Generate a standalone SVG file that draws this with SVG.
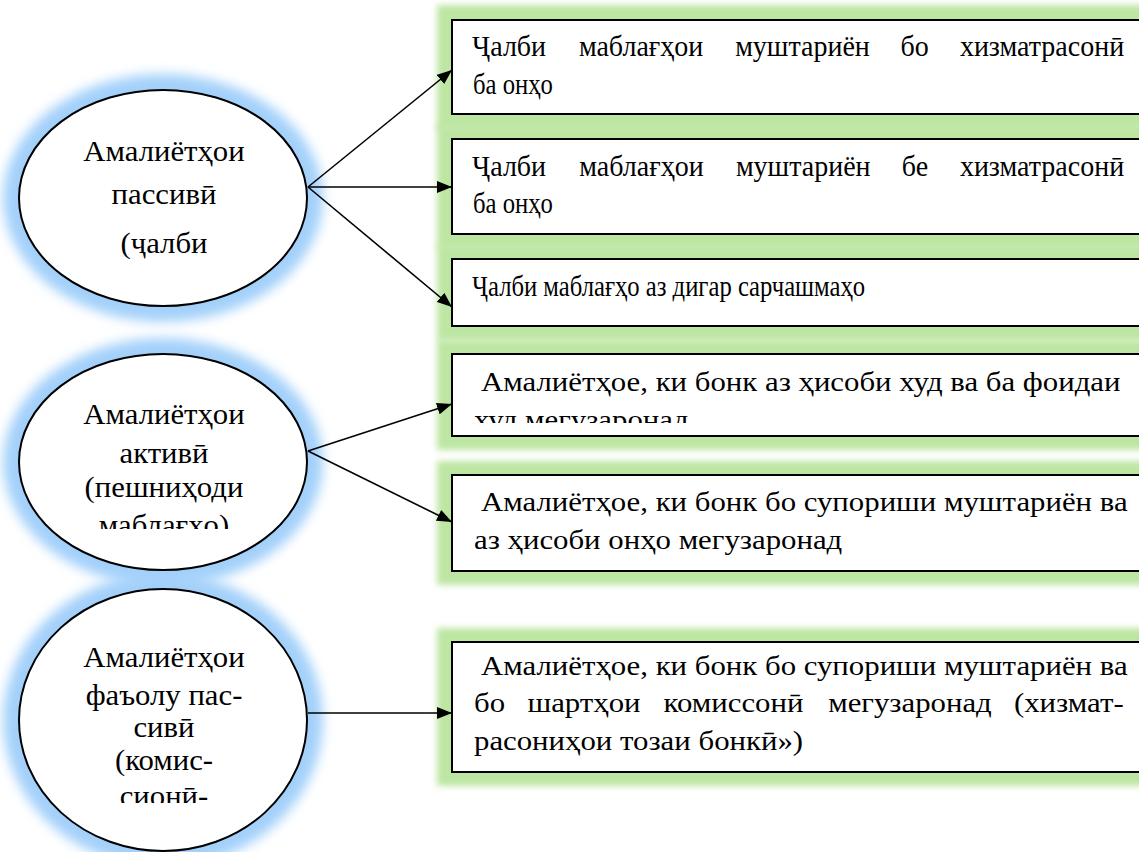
<svg xmlns="http://www.w3.org/2000/svg" width="1139" height="852" viewBox="0 0 1139 852">
<style>
.bg{fill:#ffffff}
.glowG{fill:#bde6a3;filter:url(#blurG)}
.glowB{fill:#a3d0fa;filter:url(#blurB)}
.box{fill:#ffffff;stroke:#000000;stroke-width:2}
.ell{fill:#ffffff;stroke:#000000;stroke-width:2}
.t{font-size:29px;fill:#000000}
.u{font-size:28px;fill:#000000}
.e{font-size:29px;fill:#000000;text-anchor:middle}
.c{stroke:#000000;stroke-width:1.6;fill:none;marker-end:url(#ah)}
</style>
<defs>
<filter id="blurG" x="-20%" y="-50%" width="140%" height="200%"><feGaussianBlur stdDeviation="3"/></filter>
<filter id="blurB" x="-30%" y="-30%" width="160%" height="160%"><feGaussianBlur stdDeviation="6"/></filter>
<marker id="ah" markerWidth="16" markerHeight="12" refX="15" refY="6" orient="auto" markerUnits="userSpaceOnUse">
<path d="M0,0 L15,6 L0,12 Z" fill="#000000"/>
</marker>
<clipPath id="clipB4"><rect x="452" y="354" width="687" height="69"/></clipPath>
<clipPath id="clipE2"><rect x="0" y="350" width="320" height="179"/></clipPath>
<clipPath id="clipE3"><rect x="0" y="580" width="320" height="223"/></clipPath>
</defs>
<rect class="bg" x="0" y="0" width="1139" height="852"/>

<g id="glows">
<rect class="glowG" x="437" y="5" width="720" height="125"/>
<rect class="glowG" x="437" y="125" width="720" height="124"/>
<rect class="glowG" x="437" y="245" width="720" height="96"/>
<rect class="glowG" x="437" y="340" width="720" height="110"/>
<rect class="glowG" x="437" y="461" width="720" height="124"/>
<rect class="glowG" x="437" y="628" width="720" height="158"/>
<ellipse class="glowB" cx="163" cy="198" rx="160" ry="124"/>
<ellipse class="glowB" cx="163" cy="462" rx="160" ry="124"/>
<ellipse class="glowB" cx="163" cy="720" rx="160" ry="147"/>
</g>

<g id="connectors">
<line class="c" x1="308" y1="187" x2="452" y2="70"/>
<line class="c" x1="308" y1="187" x2="452" y2="187"/>
<line class="c" x1="308" y1="187" x2="452" y2="307"/>
<line class="c" x1="308" y1="451" x2="452" y2="404"/>
<line class="c" x1="308" y1="451" x2="452" y2="522"/>
<line class="c" x1="308" y1="713" x2="452" y2="713"/>
</g>

<g id="node-e1" font-family="Liberation Serif">
<ellipse class="ell" cx="163" cy="198" rx="144" ry="108"/>
<g transform="translate(164,0) scale(1.06,1)">
<text class="e" x="0" y="161">Амалиётҳои</text>
<text class="e" x="0" y="204">пассивӣ</text>
<text class="e" x="0" y="253">(ҷалби</text>
</g>
</g>

<g id="node-e2" font-family="Liberation Serif">
<ellipse class="ell" cx="163" cy="462" rx="144" ry="108"/>
<g clip-path="url(#clipE2)">
<g transform="translate(164,0) scale(1.06,1)">
<text class="e" x="0" y="424">Амалиётҳои</text>
<text class="e" x="0" y="463">активӣ</text>
<text class="e" x="0" y="497">(пешниҳоди</text>
<text class="e" x="0" y="535">маблағҳо)</text>
</g>
</g>
</g>

<g id="node-e3" font-family="Liberation Serif">
<ellipse class="ell" cx="163" cy="720" rx="144" ry="131"/>
<g clip-path="url(#clipE3)">
<g transform="translate(164,0) scale(1.06,1)">
<text class="e" x="0" y="667">Амалиётҳои</text>
<text class="e" x="0" y="705">фаъолу пас-</text>
<text class="e" x="0" y="737">сивӣ</text>
<text class="e" x="0" y="770">(комис-</text>
<text class="e" x="0" y="806">сионӣ-</text>
</g>
</g>
</g>

<g id="node-b1" font-family="Liberation Serif">
<rect class="box" x="452" y="20" width="700" height="94"/>
<g transform="scale(0.9655,1)">
<text class="t" y="56"><tspan x="488.9">Ҷалби</tspan><tspan x="599.6">маблағҳои</tspan><tspan x="761.4">муштариён</tspan><tspan x="932.8">бо</tspan><tspan x="994.2">хизматрасонӣ</tspan></text>
</g>
<g transform="scale(0.85,1)">
<text class="t" x="556.5" y="94">ба онҳо</text>
</g>
</g>

<g id="node-b2" font-family="Liberation Serif">
<rect class="box" x="452" y="139" width="700" height="95"/>
<g transform="scale(0.9655,1)">
<text class="t" y="176"><tspan x="488.9">Ҷалби</tspan><tspan x="600">маблағҳои</tspan><tspan x="762.2">муштариён</tspan><tspan x="934">бе</tspan><tspan x="994.2">хизматрасонӣ</tspan></text>
</g>
<g transform="scale(0.85,1)">
<text class="t" x="556.5" y="213">ба онҳо</text>
</g>
</g>

<g id="node-b3" font-family="Liberation Serif">
<rect class="box" x="452" y="259" width="700" height="67"/>
<g transform="scale(0.85,1)">
<text class="t" x="555.3" y="296">Ҷалби маблағҳо аз дигар сарчашмаҳо</text>
</g>
</g>

<g id="node-b4" font-family="Liberation Serif">
<rect class="box" x="452" y="354" width="700" height="82"/>
<g clip-path="url(#clipB4)">
<g transform="scale(1.1,1)">
<text class="u" x="437.3" y="391">Амалиётҳое, ки бонк аз ҳисоби худ ва ба фоидаи</text>
<text class="u" x="430.9" y="429">худ мегузаронад</text>
</g>
</g>
</g>

<g id="node-b5" font-family="Liberation Serif">
<rect class="box" x="452" y="475" width="700" height="96"/>
<g transform="scale(1.1,1)">
<text class="u" x="437.3" y="511">Амалиётҳое, ки бонк бо супориши муштариён ва</text>
<text class="u" x="430.9" y="549">аз ҳисоби онҳо мегузаронад</text>
</g>
</g>

<g id="node-b6" font-family="Liberation Serif">
<rect class="box" x="452" y="642" width="700" height="130"/>
<g transform="scale(1.1,1)">
<text class="u" x="437.3" y="675">Амалиётҳое, ки бонк бо супориши муштариён ва</text>
<text class="u" y="712"><tspan x="430.9">бо</tspan><tspan x="479.5">шартҳои</tspan><tspan x="603.3">комиссонӣ</tspan><tspan x="752.9">мегузаронад</tspan><tspan x="921.8">(хизмат-</tspan></text>
<text class="u" x="430.9" y="750">расониҳои тозаи бонкӣ»)</text>
</g>
</g>
</svg>
